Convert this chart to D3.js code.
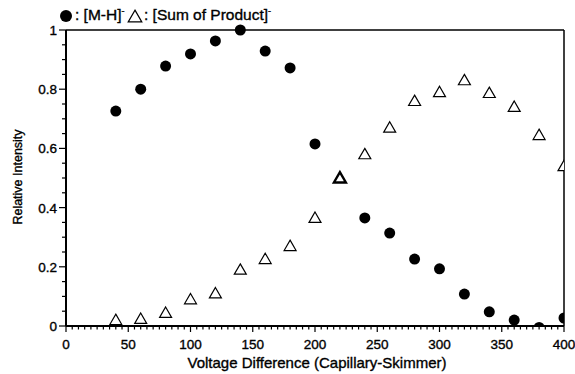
<!DOCTYPE html>
<html>
<head>
<meta charset="utf-8">
<script src="https://cdn.jsdelivr.net/npm/d3@7"></script>
<style>
body { margin:0; background:#fff; }
text { font-family: "Liberation Sans", Arial, sans-serif; fill:#000; stroke:#000; stroke-width:0.35; }
</style>
</head>
<body>
<script>
var voltage = [40,60,80,100,120,140,160,180,200,220,240,260,280,300,320,340,360,380,400];
// [M-H]- (filled circles); the 220 point is hidden under the triangle
var parent  = [0.726,0.80,0.878,0.919,0.963,1.0,0.929,0.872,0.615,null,0.365,0.314,0.226,0.193,0.108,0.048,0.02,-0.005,0.027];
// [Sum of Product]- (open triangles)
var product = [0.02,0.024,0.044,0.09,0.11,0.19,0.226,0.27,0.365,0.50,0.58,0.67,0.76,0.79,0.83,0.787,0.74,0.645,0.54];
var xTicks = [0,50,100,150,200,250,300,350,400];
var yTicks = [0,0.2,0.4,0.6,0.8,1];

var W = 575, H = 374;
var svg = d3.select("body").append("svg")
	.attr("width", W).attr("height", H);

var x = d3.scaleLinear().domain([0,400]).range([66,564]);
var y = d3.scaleLinear().domain([0,1]).range([326,30]);

svg.append("clipPath").attr("id","clip")
	.append("rect")
	.attr("x", x(0)).attr("y", y(1) - 8)
	.attr("width", x(400) - x(0)).attr("height", y(0) - y(1) + 8);

// frame (top/right thinner)
svg.append("line").attr("x1", x(0)).attr("x2", x(400)).attr("y1", y(1)).attr("y2", y(1))
	.attr("stroke","#000").attr("stroke-width",1.5);
svg.append("line").attr("x1", x(400)).attr("x2", x(400)).attr("y1", y(1)).attr("y2", y(0))
	.attr("stroke","#000").attr("stroke-width",1.5);

// minor ticks
var g = svg.append("g");
g.selectAll().data(d3.range(0,401,5)).enter().append("line")
	.attr("x1", function(d){ return x(d); }).attr("x2", function(d){ return x(d); })
	.attr("y1", y(0)).attr("y2", function(d){ return d % 50 ? y(0)+3.5 : y(0)+6; })
	.attr("stroke","#000").attr("stroke-width",1.2);
g.selectAll().data(d3.range(0,1.001,0.05)).enter().append("line")
	.attr("y1", function(d){ return y(d); }).attr("y2", function(d){ return y(d); })
	.attr("x1", x(0)).attr("x2", function(d){ return Math.round(d*100) % 20 ? x(0)-4 : x(0)-7; })
	.attr("stroke","#000").attr("stroke-width",1.2);

// axis lines
svg.append("line").attr("x1", x(0)).attr("x2", x(400)).attr("y1", y(0)).attr("y2", y(0))
	.attr("stroke","#000").attr("stroke-width",2);
svg.append("line").attr("x1", x(0)).attr("x2", x(0)).attr("y1", y(0)).attr("y2", y(1))
	.attr("stroke","#000").attr("stroke-width",2);

// tick labels
svg.selectAll().data(xTicks).enter().append("text")
	.attr("x", function(d){ return x(d); }).attr("y", 349)
	.attr("text-anchor","middle").attr("font-size",13.5)
	.text(function(d){ return d; });
svg.selectAll().data(yTicks).enter().append("text")
	.attr("x", x(0)-9).attr("y", function(d){ return y(d)+5; })
	.attr("text-anchor","end").attr("font-size",13.5)
	.text(function(d){ return d; });

svg.append("text").attr("x", 317).attr("y", 368).attr("text-anchor","middle")
	.attr("font-size",15).text("Voltage Difference (Capillary-Skimmer)");
svg.append("text").attr("transform","translate(22,177) rotate(-90)").attr("text-anchor","middle")
	.attr("font-size",12.5).text("Relative Intensity");

// points
var plot = svg.append("g").attr("clip-path","url(#clip)");
var pts = voltage.map(function(v,i){ return { v:v, a:parent[i], b:product[i] }; });

plot.selectAll().data(pts.filter(function(d){ return d.a != null; })).enter().append("circle")
	.attr("cx", function(d){ return x(d.v); })
	.attr("cy", function(d){ return y(d.a); })
	.attr("r", 5.5).attr("fill","#000");

var tri = d3.symbol().type(d3.symbolTriangle).size(62);
plot.selectAll().data(pts).enter().append("path")
	.attr("d", tri)
	.attr("transform", function(d){ return "translate(" + x(d.v) + "," + (y(d.b)+1) + ")"; })
	.attr("fill","#fff").attr("stroke","#000")
	.attr("stroke-width", function(d){ return d.v == 220 ? 2.4 : 1.2; });

// legend
var leg = svg.append("g");
leg.append("circle").attr("cx", 66).attr("cy", 16).attr("r", 6).attr("fill","#000");
var lt = leg.append("text").attr("x", 75).attr("y", 20).attr("font-size",15.5);
lt.append("tspan").text(": [M-H]");
lt.append("tspan").attr("dy",-6).attr("font-size",9).text("-");
leg.append("path").attr("d", d3.symbol().type(d3.symbolTriangle).size(80)).attr("transform","translate(135,18)")
	.attr("fill","#fff").attr("stroke","#000").attr("stroke-width",1.2);
var lt2 = leg.append("text").attr("x", 144).attr("y", 20).attr("font-size",15.5);
lt2.append("tspan").text(": [Sum of Product]");
lt2.append("tspan").attr("dy",-6).attr("font-size",9).text("-");
</script>
</body>
</html>
